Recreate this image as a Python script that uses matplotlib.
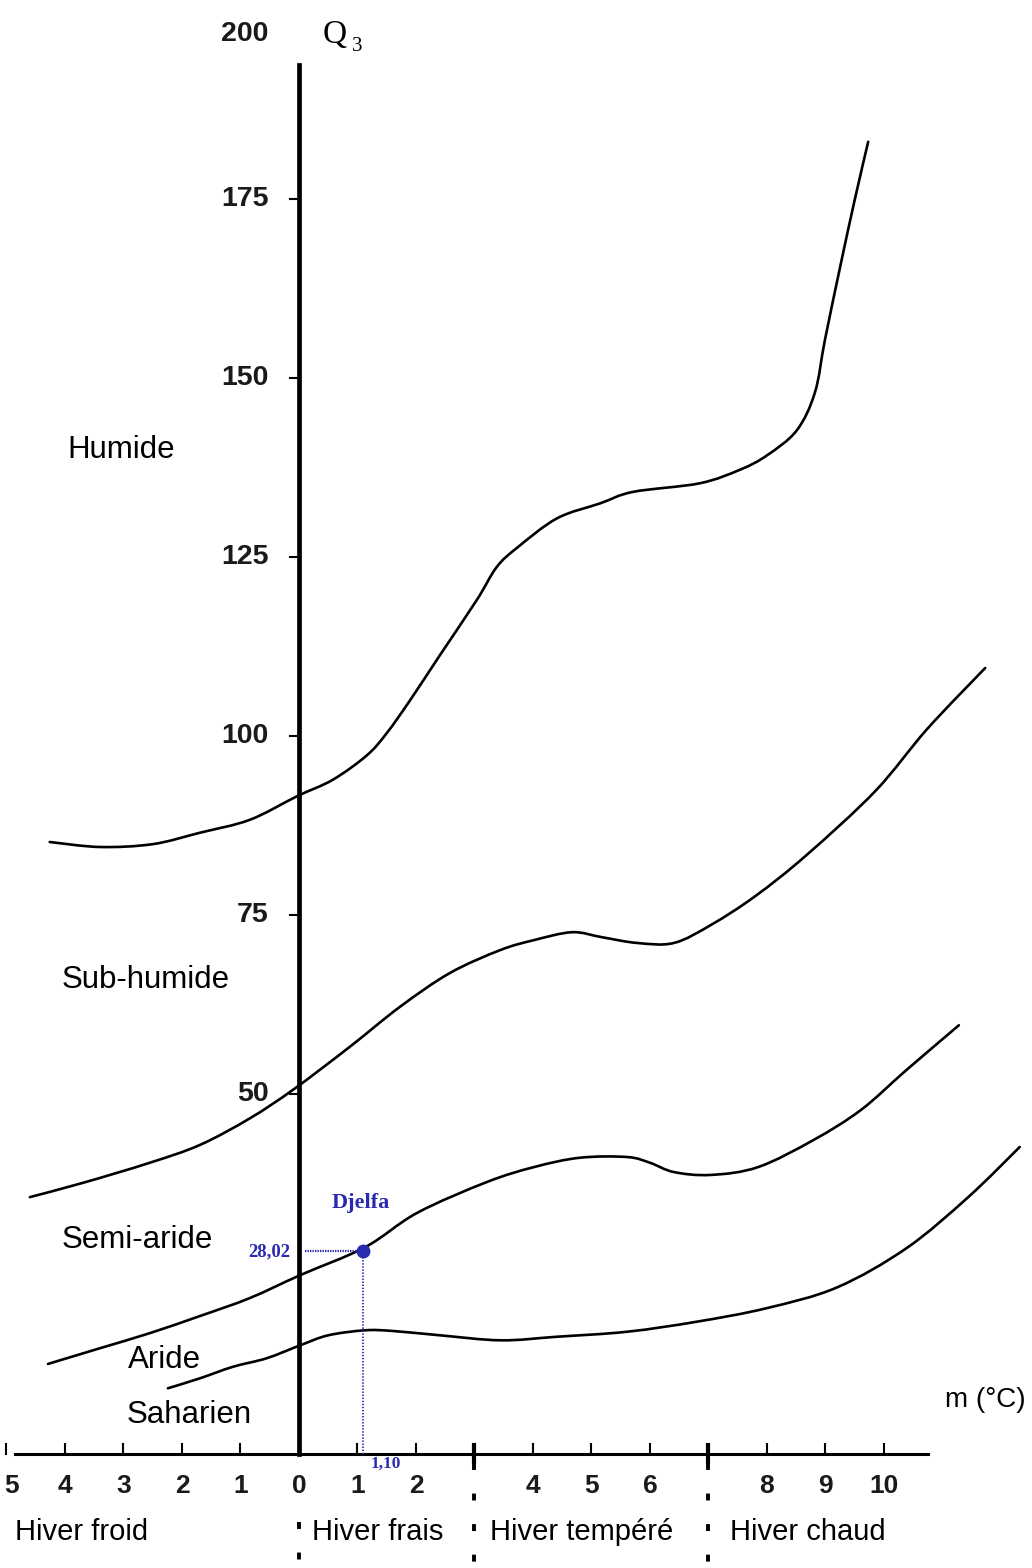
import matplotlib
matplotlib.use("Agg")
import matplotlib.pyplot as plt
from matplotlib import font_manager as fm
from matplotlib.path import Path
from matplotlib.patches import PathPatch

# ---------------- data ----------------
m_humide = [-4.26, -3.40, -2.50, -1.69, -0.84, -0.03, 0.58, 1.16, 1.50, 1.90, 2.41,
            3.04, 3.38, 3.73, 4.41, 5.15, 5.71, 6.85, 7.54, 8.00, 8.51, 8.82, 8.99,
            9.25, 9.50, 9.73]
q_humide = [85.2, 84.5, 84.9, 86.5, 88.3, 91.6, 93.9, 97.3, 100.4, 105.0, 111.3,
            119.0, 123.6, 126.3, 130.4, 132.5, 134.1, 135.3, 137.2, 139.2, 142.7,
            148.0, 155.3, 165.5, 174.9, 183.0]

m_subhum = [-4.60, -3.69, -2.55, -1.69, -0.84, -0.10, 0.87, 1.73, 2.58, 3.44, 4.02,
            4.67, 5.18, 5.78, 6.41, 7.06, 7.81, 8.68, 9.85, 10.74, 11.73]
q_subhum = [35.6, 37.6, 40.4, 42.9, 46.6, 50.6, 56.6, 62.2, 66.9, 70.1, 71.5,
            72.6, 71.9, 71.1, 71.1, 73.7, 77.7, 83.4, 92.3, 101.0, 109.5]

m_semiar = [-4.29, -3.40, -2.55, -1.69, -0.84, 0.02, 1.13, 2.02, 3.21, 4.02, 4.80,
            5.61, 6.00, 6.41, 7.04, 7.85, 8.80, 9.61, 10.39, 11.28]
q_semiar = [12.3, 14.5, 16.6, 19.0, 21.5, 24.7, 28.6, 33.4, 37.7, 39.8, 41.1,
            41.2, 40.4, 39.1, 38.7, 39.8, 43.6, 47.8, 53.4, 59.6]

m_aride = [-2.24, -1.69, -1.13, -0.55, 0.02, 0.50, 1.13, 1.61, 2.41, 3.45, 4.41,
           5.61, 6.80, 8.00, 9.20, 10.39, 11.44, 12.32]
q_aride = [8.9, 10.3, 11.9, 13.1, 14.9, 16.3, 17.0, 16.9, 16.3, 15.6, 16.1,
           16.8, 18.2, 20.1, 23.0, 28.5, 35.6, 42.6]

x_ticks = [-5, -4, -3, -2, -1, 0, 1, 2, 3, 4, 5, 6, 7, 8, 9, 10]
x_tick_labels = ["5", "4", "3", "2", "1", "0", "1", "2", "", "4", "5", "6", "", "8", "9", "10"]
y_ticks = [50, 75, 100, 125, 150, 175]
y_tick_labels = ["50", "75", "100", "125", "150", "175"]
y_top_label = "200"

winter_bounds = [0, 3, 7]
winter_labels = ["Hiver froid", "Hiver frais", "Hiver tempéré", "Hiver chaud"]
zone_labels = ["Humide", "Sub-humide", "Semi-aride", "Aride", "Saharien"]

djelfa_name = "Djelfa"
djelfa_m = 1.10
djelfa_q = 28.02


# ---------------- helpers ----------------
def smooth_path(xs, ys):
    """Catmull-Rom curve through the read points, as cubic Bezier segments."""
    pts = list(zip(xs, ys))
    n = len(pts)
    verts = [pts[0]]
    codes = [Path.MOVETO]
    for i in range(n - 1):
        p0 = pts[i - 1] if i > 0 else pts[i]
        p1 = pts[i]
        p2 = pts[i + 1]
        p3 = pts[i + 2] if i + 2 < n else pts[i + 1]
        c1 = (p1[0] + (p2[0] - p0[0]) / 6.0, p1[1] + (p2[1] - p0[1]) / 6.0)
        c2 = (p2[0] - (p3[0] - p1[0]) / 6.0, p2[1] - (p3[1] - p1[1]) / 6.0)
        verts += [c1, c2, p2]
        codes += [Path.CURVE4] * 3
    return Path(verts, codes)


def pick(fams):
    for f in fams:
        try:
            fm.findfont(fm.FontProperties(family=f), fallback_to_default=False)
            return f
        except Exception:
            continue
    return "DejaVu Sans"


num_family = pick(["Liberation Sans Narrow", "Arial Narrow", "Liberation Sans"])
num_font = [num_family, "DejaVu Sans"]
sans_font = ["Liberation Sans", "DejaVu Sans"]
serif_font = ["Liberation Serif", "DejaVu Serif"]
blue = "#2a2ab0"
num_color = "#1a1a1a"

# ---------------- figure ----------------
fig = plt.figure(figsize=(10.32, 15.68), dpi=100)
ax = fig.add_axes([0, 0, 1, 1])
ax.set_xlim(-5.11, 12.53)
ax.set_ylim(-16.2, 202.8)
ax.axis("off")

# curves
for mx, qy in [(m_humide, q_humide), (m_subhum, q_subhum),
               (m_semiar, q_semiar), (m_aride, q_aride)]:
    ax.add_patch(PathPatch(smooth_path(mx, qy), fill=False, edgecolor="black",
                           lw=1.9, capstyle="round", joinstyle="round", zorder=3))

# vertical Q3 axis
ax.plot([0, 0], [-0.3, 193.7], color="black", lw=3.4, zorder=4)
for v, lab in zip(y_ticks, y_tick_labels):
    ax.plot([-0.15, 0], [v, v], color="black", lw=1.5, zorder=4)
    ax.text(-0.52, v, lab, ha="right", va="center", fontsize=20.5,
            family=num_font, fontweight="bold", fontstretch="condensed",
            color=num_color)
ax.text(-0.52, 198, y_top_label, ha="right", va="center", fontsize=20.5,
        family=num_font, fontweight="bold", fontstretch="condensed", color=num_color)
ax.text(0.4, 198, "Q", ha="left", va="center", fontsize=24, family=serif_font)
ax.text(0.9, 196.3, "3", ha="left", va="center", fontsize=15, family=serif_font)

# horizontal m axis
ax.plot([-4.85, 10.75], [-0.3, -0.3], color="black", lw=2.2, zorder=4)
for t, lab in zip(x_ticks, x_tick_labels):
    if t in winter_bounds[1:]:
        ax.plot([t, t], [-1.4, 1.0], color="black", lw=3.0, zorder=4)
    else:
        ax.plot([t, t], [-0.3, 1.1], color="black", lw=1.5, zorder=4)
    if lab:
        ax.text(t + (0.08 if t == -5 else 0), -4.8, lab, ha="center", va="center",
                fontsize=19, family=num_font, fontweight="bold",
                fontstretch="condensed", color=num_color)
ax.text(11.05, 7.3, "m (°C)", ha="left", va="center", fontsize=20,
        family=sans_font)

# winter separators
plt.rcParams["lines.scale_dashes"] = False
for b in winter_bounds:
    y0 = -9.8 if b == 0 else -1.5
    ax.plot([b, b], [y0, -16.2], color="black", lw=2.8,
            dashes=(5, 17), zorder=4)

# winter labels
winter_x = [-4.85, 0.22, 3.26, 7.37]
for wx, lab in zip(winter_x, winter_labels):
    ax.text(wx, -11.2, lab, ha="left", va="center", fontsize=21,
            family=sans_font)

# zone labels
zone_pos = [(-3.95, 139.9), (-4.05, 65.9), (-4.05, 29.6), (-2.92, 12.8), (-2.94, 5.2)]
for (zx, zy), lab in zip(zone_pos, zone_labels):
    ax.text(zx, zy, lab, ha="left", va="center", fontsize=22.5, family=sans_font)

# Djelfa station
ax.plot([0.1, djelfa_m], [djelfa_q, djelfa_q], color=blue, lw=1.6,
        linestyle=(0, (1, 0.8)), zorder=5)
ax.plot([djelfa_m, djelfa_m], [djelfa_q, -0.3], color=blue, lw=1.3,
        linestyle=(0, (1, 1.2)), zorder=5)
ax.plot([djelfa_m], [djelfa_q], marker="o", ms=9, color=blue, zorder=6)
ax.text(djelfa_m - 0.05, 34.8, djelfa_name, ha="center", va="center",
        fontsize=16, family=serif_font, fontweight="bold", color=blue)
ax.text(-0.15, djelfa_q, f"{djelfa_q:.2f}".replace(".", ","), ha="right",
        va="center", fontsize=13.5, family=serif_font, fontweight="bold", color=blue)
ax.text(djelfa_m + 0.12, -1.6, f"{djelfa_m:.2f}".replace(".", ","), ha="left",
        va="center", fontsize=12.5, family=serif_font, fontweight="bold", color=blue)

fig.savefig("out.png", dpi=100, facecolor="white")
